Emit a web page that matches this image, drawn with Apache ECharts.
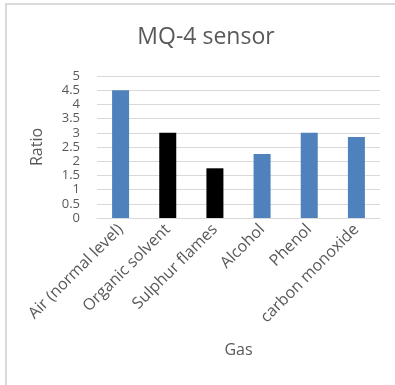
<!DOCTYPE html>
<html><head><meta charset="utf-8">
<script src="https://cdn.jsdelivr.net/npm/echarts@6/dist/echarts.min.js"></script>
<style>
html,body{margin:0;padding:0;background:#fff;}
#frame{position:absolute;left:5px;top:3px;width:395px;height:390px;border-top:2px solid #d9d9d9;border-left:2px solid #d9d9d9;}
#c{position:absolute;left:0;top:0;width:395px;height:385px;}
</style></head>
<body>
<div id="frame"></div>
<div id="c"></div>
<script>
const categories = ["Air (normal level)", "Organic solvent", "Sulphur flames", "Alcohol", "Phenol", "carbon monoxide"];
const ratios = [4.5, 3.0, 1.75, 2.25, 3.0, 2.85];
const barColors = ["#4f81bd", "#000000", "#000000", "#4f81bd", "#4f81bd", "#4f81bd"];
const yTicks = ["0", "0.5", "1", "1.5", "2", "2.5", "3", "3.5", "4", "4.5", "5"];

const chart = echarts.init(document.getElementById('c'), null, {renderer: 'canvas'});
const font = '"Open Sans", sans-serif';
chart.setOption({
  animation: false,
  title: {
    text: 'MQ-4 sensor', left: 201, top: 21, textAlign: 'center',
    textStyle: {fontFamily: font, fontSize: 23, fontWeight: 'normal', color: '#595959'}
  },
  grid: {left: 97, right: 15, top: 76, bottom: 167},
  xAxis: {
    type: 'category', data: categories,
    name: 'Gas', nameLocation: 'middle', nameGap: 124,
    nameTextStyle: {fontFamily: font, fontSize: 16, color: '#595959'},
    axisLine: {lineStyle: {color: '#d9d9d9'}},
    axisTick: {show: false},
    axisLabel: {rotate: 45, margin: 9, interval: 0, fontFamily: font, fontSize: 16, color: '#595959'}
  },
  yAxis: {
    type: 'value', min: 0, max: 5, interval: 0.5,
    name: 'Ratio', nameLocation: 'middle', nameGap: 52,
    nameTextStyle: {fontFamily: font, fontSize: 16, color: '#595959'},
    axisLine: {show: false}, axisTick: {show: false},
    splitLine: {lineStyle: {color: '#d9d9d9'}},
    axisLabel: {margin: 17, fontFamily: font, fontSize: 13, color: '#595959',
      formatter: v => yTicks[Math.round(v * 2)]}
  },
  series: [{
    type: 'bar', barWidth: 17,
    data: ratios.map((v, i) => ({value: v, itemStyle: {color: barColors[i]}}))
  }]
});
</script>
</body></html>
